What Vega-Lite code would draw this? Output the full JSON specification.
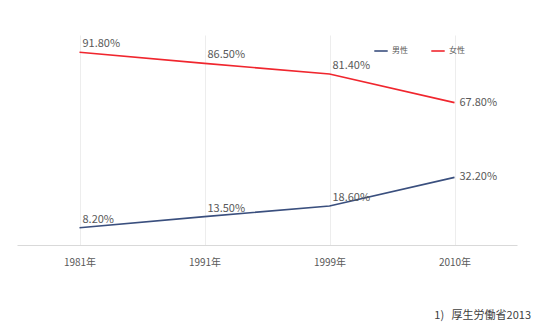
{
  "$schema": "https://vega.github.io/schema/vega-lite/v6.json",
  "width": 500,
  "height": 210,
  "autosize": {"type": "none"},
  "padding": {"left": 17, "top": 35, "right": 28, "bottom": 82},
  "background": "white",
  "title": {
    "text": "1)\u00a0\u00a0\u00a0厚生労働省2013",
    "orient": "bottom",
    "anchor": "end",
    "offset": 43,
    "fontSize": 11,
    "fontWeight": "normal",
    "font": "Noto Sans CJK JP",
    "color": "#404040",
    "dx": 14
  },
  "config": {
    "view": {"stroke": null},
    "font": "Noto Sans CJK JP"
  },
  "data": {
    "values": [
      {"year": "1981年", "sex": "男性", "value": 8.2, "label": "8.20%"},
      {"year": "1991年", "sex": "男性", "value": 13.5, "label": "13.50%"},
      {"year": "1999年", "sex": "男性", "value": 18.6, "label": "18.60%"},
      {"year": "2010年", "sex": "男性", "value": 32.2, "label": "32.20%"},
      {"year": "1981年", "sex": "女性", "value": 91.8, "label": "91.80%"},
      {"year": "1991年", "sex": "女性", "value": 86.5, "label": "86.50%"},
      {"year": "1999年", "sex": "女性", "value": 81.4, "label": "81.40%"},
      {"year": "2010年", "sex": "女性", "value": 67.8, "label": "67.80%"}
    ]
  },
  "encoding": {
    "x": {
      "field": "year",
      "type": "ordinal",
      "scale": {"type": "point", "padding": 0.5},
      "axis": {
        "title": null,
        "labelAngle": 0,
        "labelFontSize": 10,
        "labelColor": "#595959",
        "labelPadding": 12,
        "ticks": false,
        "domainColor": "#D9D9D9",
        "grid": true,
        "gridColor": "#EDEDED"
      }
    },
    "y": {
      "field": "value",
      "type": "quantitative",
      "scale": {"domain": [0, 100]},
      "axis": null
    }
  },
  "layer": [
    {
      "mark": {"type": "line", "strokeWidth": 1.6},
      "encoding": {
        "color": {
          "field": "sex",
          "type": "nominal",
          "scale": {"domain": ["男性", "女性"], "range": ["#3A4F7E", "#F0262E"]},
          "legend": {
            "title": null,
            "orient": "none",
            "legendX": 356,
            "legendY": 8,
            "direction": "horizontal",
            "symbolType": "stroke",
            "symbolSize": 180,
            "symbolStrokeWidth": 1.6,
            "labelFontSize": 8,
            "labelColor": "#595959",
            "columnPadding": 20,
            "labelOffset": 3
          }
        }
      }
    },
    {
      "transform": [{"filter": "datum.year != '2010年'"}],
      "mark": {"type": "text", "align": "left", "dx": 3, "dy": -8, "fontSize": 11, "color": "#595959"},
      "encoding": {"text": {"field": "label"}}
    },
    {
      "transform": [{"filter": "datum.year == '2010年'"}],
      "mark": {"type": "text", "align": "left", "dx": 5, "dy": 0, "fontSize": 11, "color": "#595959"},
      "encoding": {"text": {"field": "label"}}
    }
  ]
}
